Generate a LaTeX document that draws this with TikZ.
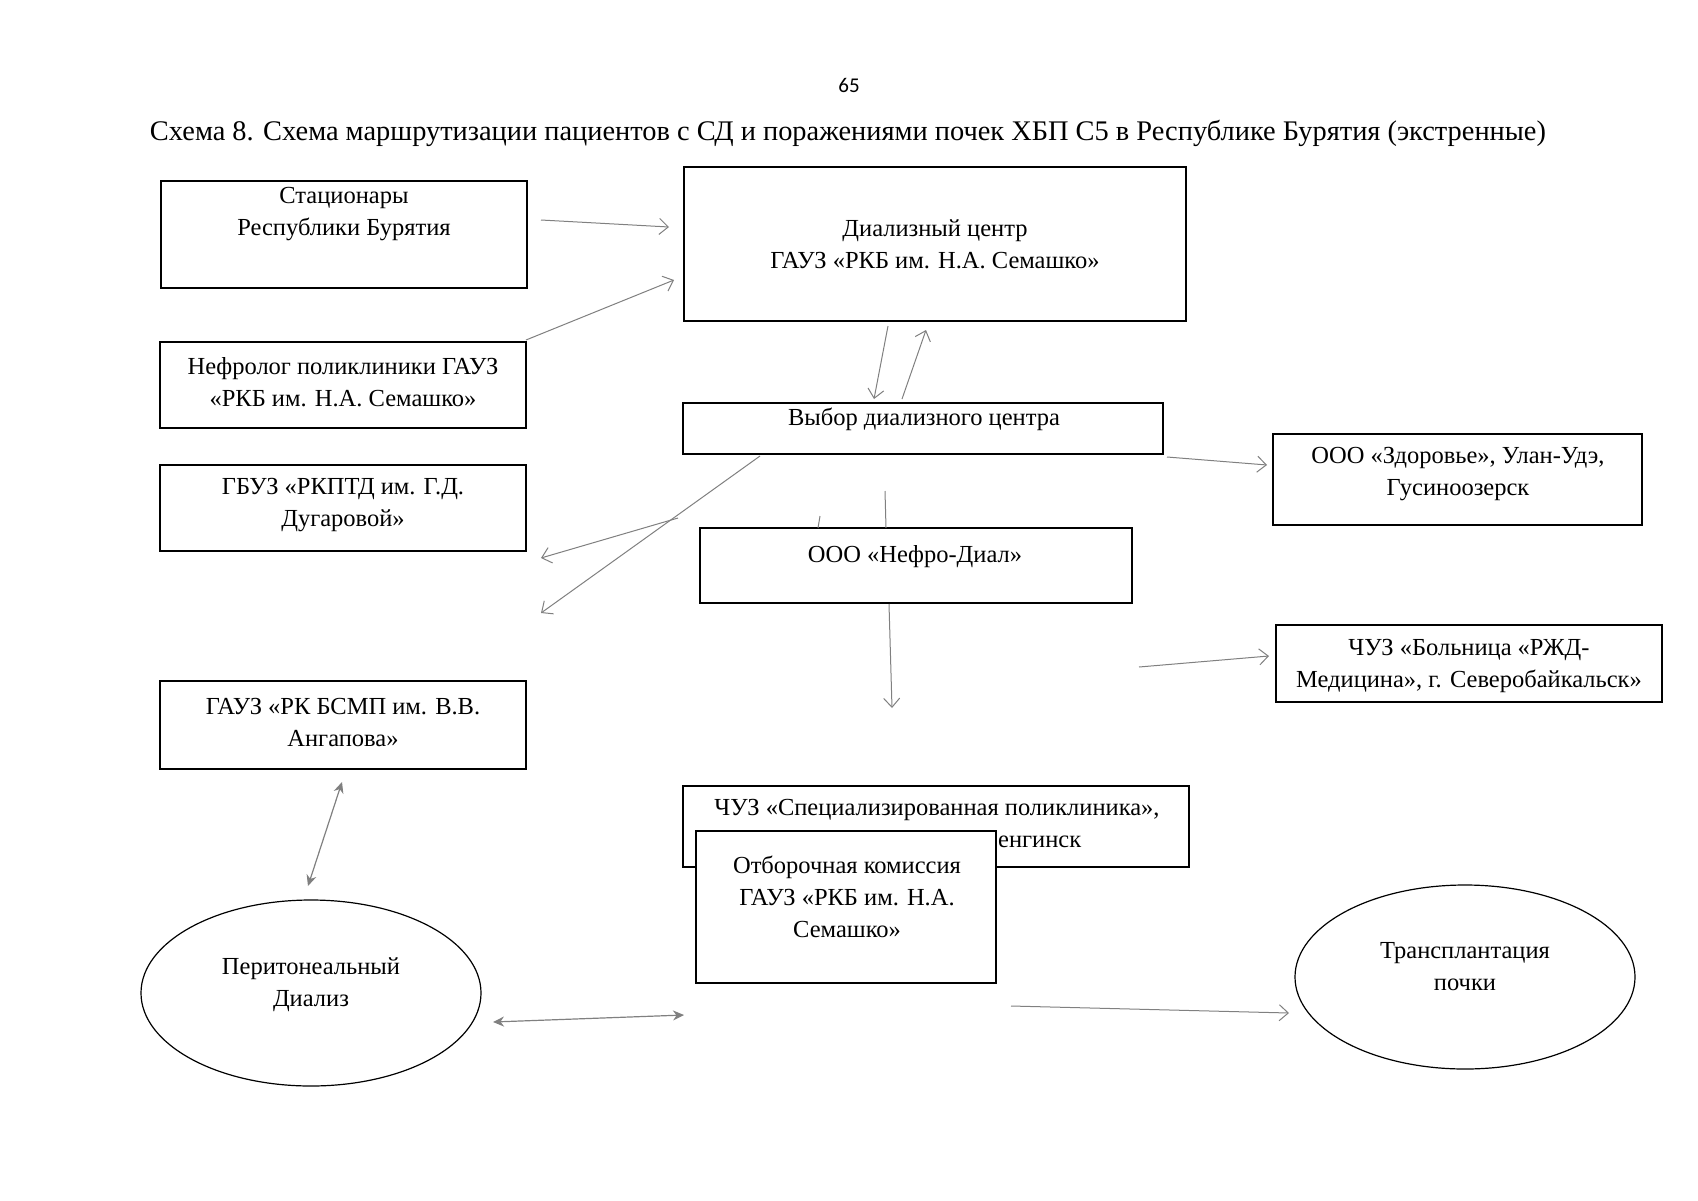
\documentclass[tikz,border=0pt]{standalone}
\usepackage{fontspec}
\setmainfont{Liberation Serif}
\newfontfamily\pagefont{Carlito}
\usetikzlibrary{arrows.meta,shapes.geometric}
\tikzset{
 boxnode/.style={draw=black, line width=1.2pt, rectangle, inner sep=0pt},
 ovalnode/.style={draw=black, line width=1.2pt, ellipse, inner sep=0pt},
 lbl/.style={align=center, font=\fontsize{24.5}{32}\selectfont, inner sep=0pt},
 arr/.style={draw=gray, line width=1pt, -{Straight Barb[length=9pt,width=16pt]}},
 darr/.style={draw=gray, line width=1.2pt, {Stealth[length=11pt,width=10pt]}-{Stealth[length=11pt,width=10pt]}},
 ln/.style={draw=gray, line width=1pt},
}
\begin{document}
\begin{tikzpicture}[x=1pt,y=-1pt]
\useasboundingbox[fill=white] (0,0) rectangle (1698,1200);
\node[font=\pagefont\fontsize{21}{24}\selectfont] (pg) at (849,85) {65};
\node[font=\fontsize{28.4}{32}\selectfont, inner sep=0pt] (title) at (848,133) {Схема 8. Схема маршрутизации пациентов с СД и поражениями почек ХБП С5 в Республике Бурятия (экстренные)};

% boxes
\node[boxnode, minimum width=366, minimum height=107] (st) at (344,234.5) {};
\node[lbl] (stt) at (344,214) {Стационары\\Республики Бурятия};
\node[boxnode, minimum width=366, minimum height=86] (neph) at (343,385) {};
\node[lbl] (nepht) at (343,382) {Нефролог поликлиники ГАУЗ\\«РКБ им. Н.А. Семашко»};
\node[boxnode, minimum width=366, minimum height=86] (gbuz) at (343,508) {};
\node[lbl] (gbuzt) at (343,505) {ГБУЗ «РКПТД им. Г.Д.\\Дугаровой»};
\node[boxnode, minimum width=366, minimum height=88] (bsmp) at (343,725) {};
\node[lbl] (bsmpt) at (343,722) {ГАУЗ «РК БСМП им. В.В.\\Ангапова»};
\node[boxnode, minimum width=502, minimum height=154] (dc) at (935,244) {};
\node[lbl] (dct) at (935,244) {Диализный центр\\ГАУЗ «РКБ им. Н.А. Семашко»};
\node[boxnode, minimum width=480, minimum height=51] (vybor) at (923,428.5) {};
\node[lbl] (vybort) at (924,419) {Выбор диализного центра};
\node[boxnode, minimum width=369, minimum height=91] (zdr) at (1457.5,479.5) {};
\node[lbl] (zdrt) at (1458,474.5) {ООО «Здоровье», Улан-Удэ,\\Гусиноозерск};
\node[boxnode, minimum width=432, minimum height=75] (nefro) at (916,565.5) {};
\node[lbl] (nefrot) at (915,557) {ООО «Нефро-Диал»};
\node[boxnode, minimum width=386, minimum height=77] (rzd) at (1469,663.5) {};
\node[lbl] (rzdt) at (1469,666) {ЧУЗ «Больница «РЖД-\\Медицина», г. Северобайкальск»};
\node[boxnode, minimum width=506, minimum height=81] (spec) at (936,826.5) {};
\node[lbl] (spect) at (937,810) {ЧУЗ «Специализированная поликлиника»,};
\node[lbl, anchor=west] (spect2) at (998,842) {енгинск};
\node[boxnode, fill=white, line width=1.6pt, minimum width=300, minimum height=152] (otb) at (846,907) {};
\node[lbl] (otbt) at (847,897) {Отборочная комиссия\\ГАУЗ «РКБ им. Н.А.\\Семашко»};
\node[ovalnode, minimum width=340, minimum height=186] (perit) at (311,993) {};
\node[lbl] (peritt) at (311,984.5) {Перитонеальный\\Диализ};
\node[ovalnode, minimum width=340, minimum height=184] (transp) at (1465,977) {};
\node[lbl] (transpt) at (1465,967) {Трансплантация\\почки};

% connector coordinates
\coordinate (a1s) at (541,220); \coordinate (a1e) at (669,227);
\coordinate (a2s) at (526,340); \coordinate (a2e) at (674,280);
\coordinate (a3s) at (888,326); \coordinate (a3e) at (874,399);
\coordinate (a4s) at (902,399); \coordinate (a4e) at (926,330);
\coordinate (a5s) at (1167,457); \coordinate (a5e) at (1267,465);
\coordinate (a6s) at (760,456); \coordinate (a6e) at (541,613);
\coordinate (a7s) at (678,518); \coordinate (a7e) at (541,558);
\coordinate (a8s) at (820,516); \coordinate (a8e) at (818,528);
\coordinate (a9s) at (885,491); \coordinate (a9e) at (886,528);
\coordinate (a10s) at (889,604); \coordinate (a10e) at (892,708);
\coordinate (a11s) at (1139,667); \coordinate (a11e) at (1269,656);
\coordinate (a12s) at (342,782); \coordinate (a12e) at (308,886);
\coordinate (a13s) at (493,1022); \coordinate (a13e) at (684,1015);
\coordinate (a14s) at (1011,1006); \coordinate (a14e) at (1289,1013);

\draw[arr] (a1s) -- (a1e);
\draw[arr] (a2s) -- (a2e);
\draw[arr] (a3s) -- (a3e);
\draw[arr] (a4s) -- (a4e);
\draw[arr] (a5s) -- (a5e);
\draw[arr] (a6s) -- (a6e);
\draw[arr] (a7s) -- (a7e);
\draw[ln] (a8s) -- (a8e);
\draw[ln] (a9s) -- (a9e);
\draw[arr] (a10s) -- (a10e);
\draw[arr] (a11s) -- (a11e);
\draw[darr] (a12s) -- (a12e);
\draw[darr] (a13s) -- (a13e);
\draw[arr] (a14s) -- (a14e);
\end{tikzpicture}
\end{document}
